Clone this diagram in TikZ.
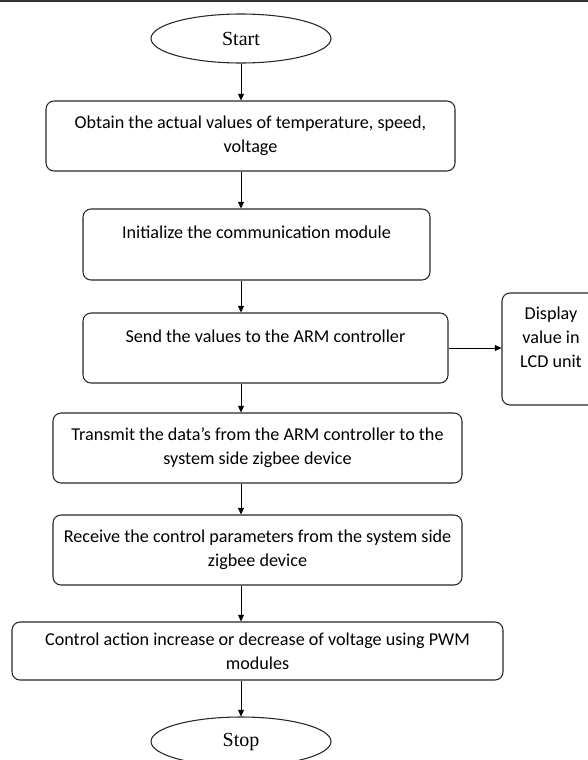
\documentclass[tikz,border=0pt]{standalone}
\usepackage{fontspec}
\setmainfont{Carlito}
\newfontfamily\timesfont{Liberation Serif}
\usetikzlibrary{shapes.geometric,arrows.meta}

\begin{document}
\begin{tikzpicture}[x=0.75pt,y=-0.75pt,
proc/.style={draw=black!85,line width=0.8pt,rounded corners=6pt,align=center,inner sep=0pt,
font=\fontsize{13.6}{18}\selectfont},
term/.style={draw=black!85,line width=0.8pt,ellipse,inner sep=0pt,minimum width=135pt,minimum height=36.75pt,
font=\timesfont\fontsize{15}{17}\selectfont},
link/.style={line width=0.75pt,-{Triangle[length=5pt,width=4.5pt]}}]
\useasboundingbox (0,0) rectangle (588,760);
\draw[line width=1.6pt,black!80] (0,1) -- (588,1);
\node[term] (start) at (241,38.5) {Start};
\node[proc,minimum width=306.75pt,minimum height=52.5pt] (obtain) at (250.5,136)
{Obtain the actual values of temperature, speed,\\voltage};
\node[proc,minimum width=260.25pt,minimum height=53.25pt] (init) at (256.5,244.5)
{Initialize the communication module\\\mbox{}};
\node[proc,minimum width=273.75pt,minimum height=52.5pt] (send) at (265.5,348)
{Send the values to the ARM controller\\\mbox{}};
\node[proc,minimum width=73.5pt,minimum height=84pt] (lcd) at (551,349)
{Display\\value in\\LCD unit\\\mbox{}};
\node[proc,minimum width=306.75pt,minimum height=52.5pt] (transmit) at (257.5,448)
{Transmit the data’s from the ARM controller to the\\system side zigbee device};
\node[proc,minimum width=306.75pt,minimum height=52.5pt] (receive) at (257.5,550)
{Receive the control parameters from the system side\\zigbee device};
\node[proc,minimum width=368.25pt,minimum height=43.5pt] (control) at (257.5,651)
{Control action increase or decrease of voltage using PWM\\modules};
\node[term] (stop) at (241,741.5) {Stop};
\draw[link] (start.south) -- (start.south |- obtain.north);
\draw[link] (start.south |- obtain.south) -- (start.south |- init.north);
\draw[link] (start.south |- init.south) -- (start.south |- send.north);
\draw[link] (send.east) -- (send.east -| lcd.west);
\draw[link] (start.south |- send.south) -- (start.south |- transmit.north);
\draw[link] (start.south |- transmit.south) -- (start.south |- receive.north);
\draw[link] (start.south |- receive.south) -- (start.south |- control.north);
\draw[link] (start.south |- control.south) -- (stop.north);
\end{tikzpicture}
\end{document}
